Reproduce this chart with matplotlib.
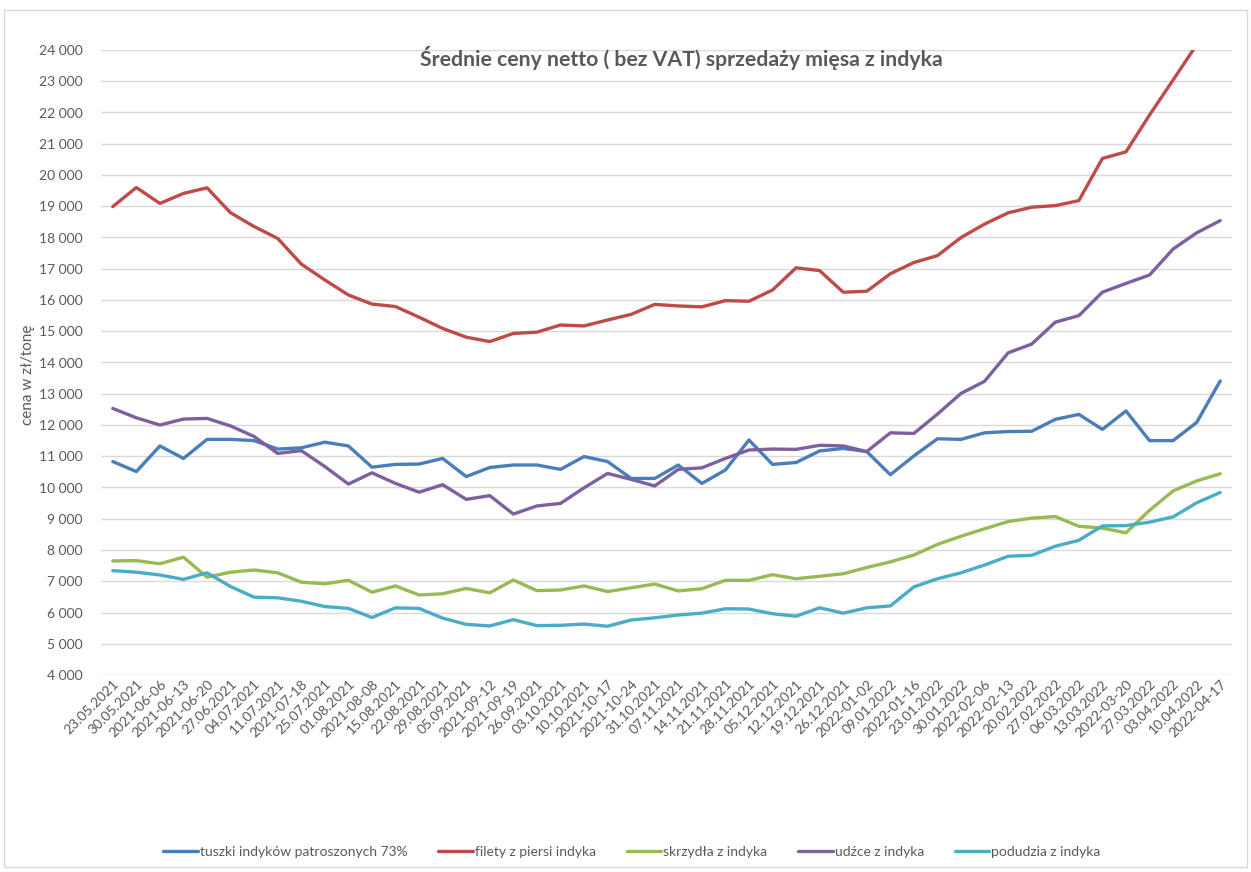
import matplotlib
matplotlib.use('Agg')
import matplotlib.pyplot as plt
from matplotlib.patches import Rectangle
from matplotlib.ticker import FuncFormatter, MultipleLocator

plt.rcParams['font.family'] = ['Lato', 'DejaVu Sans']

dates = ['23.05.2021', '30.05.2021', '2021-06-06', '2021-06-13', '2021-06-20', '27.06.2021',
         '04.07.2021', '11.07.2021', '2021-07-18', '25.07.2021', '01.08.2021', '2021-08-08',
         '15.08.2021', '22.08.2021', '29.08.2021', '05.09.2021', '2021-09-12', '2021-09-19',
         '26.09.2021', '03.10.2021', '10.10.2021', '2021-10-17', '2021-10-24', '31.10.2021',
         '07.11.2021', '14.11.2021', '21.11.2021', '28.11.2021', '05.12.2021', '12.12.2021',
         '19.12.2021', '26.12.2021', '2022-01-02', '09.01.2022', '2022-01-16', '23.01.2022',
         '30.01.2022', '2022-02-06', '2022-02-13', '20.02.2022', '27.02.2022', '06.03.2022',
         '13.03.2022', '2022-03-20', '27.03.2022', '03.04.2022', '10.04.2022', '2022-04-17']

tuszki = [10830, 10510, 11330, 10930, 11540, 11540, 11500, 11230, 11270, 11450, 11330, 10650,
          10740, 10750, 10930, 10350, 10640, 10720, 10720, 10580, 10990, 10830, 10290, 10290,
          10720, 10130, 10560, 11520, 10740, 10800, 11170, 11250, 11150, 10410, 11010, 11560,
          11540, 11750, 11790, 11800, 12180, 12340, 11860, 12450, 11500, 11500, 12080, 13410]
filety = [18990, 19600, 19090, 19410, 19590, 18790, 18350, 17970, 17150, 16640, 16160, 15870,
          15790, 15450, 15090, 14810, 14670, 14930, 14970, 15200, 15170, 15360, 15540, 15860,
          15810, 15780, 15980, 15960, 16320, 17030, 16940, 16250, 16280, 16840, 17200, 17420,
          18000, 18430, 18790, 18970, 19020, 19180, 20530, 20740, 21920, 23040, 24170, 25300]
skrzydla = [7650, 7660, 7560, 7770, 7130, 7290, 7360, 7270, 6970, 6920, 7030, 6650,
            6850, 6560, 6600, 6770, 6630, 7040, 6700, 6720, 6850, 6670, 6790, 6910,
            6690, 6760, 7030, 7030, 7210, 7080, 7160, 7240, 7440, 7620, 7840, 8180,
            8440, 8680, 8910, 9020, 9070, 8760, 8700, 8550, 9270, 9890, 10210, 10440]
udzce = [12530, 12230, 12000, 12190, 12210, 11970, 11630, 11090, 11180, 10670, 10110, 10470,
         10130, 9850, 10090, 9620, 9740, 9150, 9410, 9490, 9990, 10450, 10260, 10050,
         10580, 10630, 10930, 11200, 11230, 11220, 11350, 11330, 11150, 11750, 11730, 12350,
         13010, 13400, 14310, 14590, 15290, 15500, 16250, 16530, 16800, 17630, 18150, 18540]
podudzia = [7340, 7290, 7200, 7060, 7270, 6830, 6490, 6470, 6360, 6190, 6130, 5840,
            6150, 6130, 5820, 5620, 5570, 5770, 5580, 5590, 5630, 5560, 5760, 5830,
            5920, 5980, 6120, 6110, 5960, 5880, 6150, 5980, 6150, 6210, 6820, 7080,
            7270, 7520, 7800, 7830, 8120, 8310, 8770, 8780, 8890, 9060, 9510, 9840]

series = [
    ('tuszki indyków patroszonych 73%', tuszki, '#4A7EBB'),
    ('filety z piersi indyka', filety, '#BE4B48'),
    ('skrzydła z indyka', skrzydla, '#98B954'),
    ('udźce z indyka', udzce, '#7D60A0'),
    ('podudzia z indyka', podudzia, '#4BACC6'),
]

W, H = 1251, 872
fig = plt.figure(figsize=(W / 100, H / 100), dpi=100)
fig.patches.append(Rectangle((4 / W, 5 / H), 1243 / W, 857 / H, transform=fig.transFigure,
                             fill=False, edgecolor='#D9D9D9', linewidth=1))

ax = fig.add_axes([101 / W, 1 - 675 / H, 1131 / W, 625 / H])
x = list(range(len(dates)))
for name, vals, col in series:
    ax.plot(x, vals, color=col, linewidth=2.4, label=name, solid_capstyle='round',
            solid_joinstyle='round')

ax.set_xlim(-0.5, len(dates) - 0.5)
ax.set_ylim(4000, 24000)
ax.yaxis.set_major_locator(MultipleLocator(1000))
ax.yaxis.set_major_formatter(FuncFormatter(lambda v, p: f'{int(v):,}'.replace(',', ' ')))
ax.grid(axis='y', color='#D9D9D9', linewidth=1)
ax.set_axisbelow(True)
for s in ax.spines.values():
    s.set_visible(False)
ax.tick_params(axis='y', length=0, pad=13, labelsize=10, labelcolor='#595959')
ax.tick_params(axis='x', length=0, pad=2, labelsize=10, labelcolor='#595959')
ax.set_xticks(x)
ax.set_xticklabels(dates, rotation=45, ha='right', rotation_mode='anchor')
ax.set_ylabel('cena w zł/tonę', fontsize=11, color='#595959')
ax.yaxis.set_label_coords(-0.058, 0.48)

# title sits inside the plot area, a bit right of centre
ax.text(0.513, 1 - 8 / 625, 'Średnie ceny netto ( bez VAT) sprzedaży mięsa z indyka',
        transform=ax.transAxes, ha='center', va='center', fontsize=15.3, fontweight='bold',
        color='#595959')

fig.legend(loc='center', bbox_to_anchor=(632 / W, 1 - 852 / H), ncol=5, frameon=False,
           fontsize=10, labelcolor='#595959', handlelength=2.5, handletextpad=0.15,
           columnspacing=2.2)

fig.savefig('out.png', dpi=100)
